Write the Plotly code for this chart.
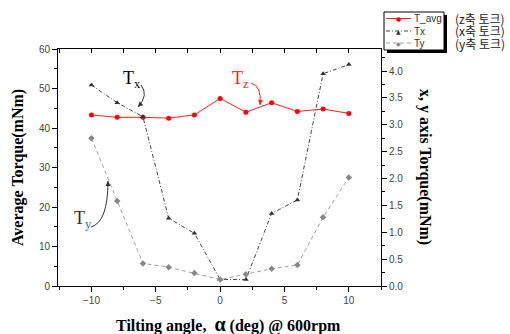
import plotly.graph_objects as go

angles = [-10, -8, -6, -4, -2, 0, 2, 4, 6, 8, 10]
t_avg = [43.3, 42.7, 42.7, 42.5, 43.3, 47.5, 44.0, 46.4, 44.2, 44.8, 43.7]
tx = [3.74, 3.41, 3.15, 1.26, 0.98, 0.12, 0.12, 1.35, 1.60, 3.95, 4.12]
ty = [2.75, 1.58, 0.42, 0.35, 0.24, 0.12, 0.22, 0.32, 0.39, 1.28, 2.02]
series_names = ["T_avg", "Tx", "Ty"]
legend_notes = ["(z축 토크)", "(x축 토크)", "(y축 토크)"]

W, H = 510, 334
L, R, T, B = 58, 381, 49, 286
XR = [-12.6, 12.5]
YR = [0, 60]
Y2R = [0, 4.41]

colors = ["#ff2020", "#444444", "#a0a0a0"]
mcolors = ["#ff0000", "#333333", "#888888"]
dashes = ["solid", "4px,2px,1px,2px", "4px,3px"]
symbols = ["circle", "triangle-up", "diamond"]
glyphs = ["●", "▲", "◆"]


def px(X, Y):
    """pixel -> data coords (x, left y)"""
    x = XR[0] + (X - L) / (R - L) * (XR[1] - XR[0])
    y = YR[0] + (B - Y) / (B - T) * (YR[1] - YR[0])
    return x, y


def pp(X, Y):
    """pixel -> paper coords"""
    return (X - L) / (R - L), (B - Y) / (B - T)


fig = go.Figure()
fig.add_trace(go.Scatter(x=angles, y=t_avg, name=series_names[0], mode="lines+markers",
                         line=dict(color=colors[0], width=1, dash=dashes[0]),
                         marker=dict(symbol=symbols[0], size=5, color=mcolors[0])))
fig.add_trace(go.Scatter(x=angles, y=tx, name=series_names[1], mode="lines+markers", yaxis="y2",
                         line=dict(color=colors[1], width=1, dash=dashes[1]),
                         marker=dict(symbol=symbols[1], size=5, color=mcolors[1])))
fig.add_trace(go.Scatter(x=angles, y=ty, name=series_names[2], mode="lines+markers", yaxis="y2",
                         line=dict(color=colors[2], width=1, dash=dashes[2]),
                         marker=dict(symbol=symbols[2], size=5, color=mcolors[2])))
# invisible trace for top axis
fig.add_trace(go.Scatter(x=[angles[0]], y=[t_avg[0]], xaxis="x2", mode="markers",
                         marker=dict(opacity=0), showlegend=False, hoverinfo="skip"))

tickfont = dict(family="Arial, Liberation Sans", size=10, color="#444444")
fig.update_layout(
    width=W, height=H,
    margin=dict(l=L, r=W - R, t=T, b=H - B, pad=0),
    paper_bgcolor="white", plot_bgcolor="white",
    showlegend=False,
    xaxis=dict(range=XR, tickvals=[-10, -5, 0, 5, 10], ticks="outside", ticklen=5,
               tickcolor="black", showline=True, linecolor="black", linewidth=1,
               showgrid=False, zeroline=False, tickfont=tickfont, automargin=False,
               minor=dict(dtick=2.5, tick0=0, ticks="outside", ticklen=3, tickcolor="black")),
    xaxis2=dict(range=XR, overlaying="x", side="top", anchor="y", dtick=2.5, tick0=0,
                ticks="inside", ticklen=4, tickcolor="black", showticklabels=False,
                automargin=False,
                showline=True, linecolor="black", linewidth=1, showgrid=False, zeroline=False),
    yaxis=dict(range=YR, dtick=10, ticks="outside", ticklen=5, tickcolor="black",
               showline=True, linecolor="black", linewidth=1, showgrid=False, zeroline=False,
               tickfont=tickfont, automargin=False,
               minor=dict(dtick=5, ticks="outside", ticklen=3, tickcolor="black")),
    yaxis2=dict(range=Y2R, overlaying="y", side="right", anchor="x", dtick=0.5,
                tickformat=".1f", ticks="outside", ticklen=5, tickcolor="black",
                showline=True, linecolor="black", linewidth=1, showgrid=False,
                zeroline=False, tickfont=tickfont, automargin=False,
                minor=dict(dtick=0.25, ticks="outside", ticklen=3, tickcolor="black")),
)

titlefont = dict(family="Liberation Serif", size=16, color="black")
# axis titles
bx, by = pp(228, 324)
fig.add_annotation(x=bx, y=by, xref="paper", yref="paper",
                   text="<b>Tilting angle,  <span style='font-size:20px'>α</span> (deg) @ 600rpm</b>",
                   showarrow=False, xanchor="center", yanchor="middle", font=titlefont)
lx, ly = pp(18, 168)
fig.add_annotation(x=lx, y=ly, xref="paper", yref="paper", text="<b>Average Torque(mNm)</b>",
                   textangle=-90, showarrow=False, xanchor="center", yanchor="middle",
                   font=titlefont)
rx, ry = pp(425, 167)
fig.add_annotation(x=rx, y=ry, xref="paper", yref="paper", text="<b>x, y axis Torque(mNm)</b>",
                   textangle=90, showarrow=False, xanchor="center", yanchor="middle",
                   font=titlefont)

# manual legend: shadow, box
x0, y0 = pp(387, 15)
x1, y1 = pp(447, 53)
fig.add_shape(type="rect", xref="paper", yref="paper", x0=x0, y0=y0, x1=x1, y1=y1,
              fillcolor="black", line=dict(width=0), layer="above")
x0, y0 = pp(384, 12)
x1, y1 = pp(444, 50)
fig.add_shape(type="rect", xref="paper", yref="paper", x0=x0, y0=y0, x1=x1, y1=y1,
              fillcolor="white", line=dict(color="black", width=1), layer="above")

row_y = [18.5, 31, 43]
for i in range(3):
    lx0, ly = pp(386, row_y[i])
    lx1, _ = pp(411, row_y[i])
    fig.add_shape(type="line", xref="paper", yref="paper", x0=lx0, x1=lx1, y0=ly, y1=ly,
                  line=dict(color=colors[i], width=1, dash=dashes[i]), layer="above")
    gx, _ = pp(398.5, 0)
    fig.add_annotation(x=gx, y=ly, xref="paper", yref="paper", text=glyphs[i], showarrow=False,
                       xanchor="center", yanchor="middle",
                       font=dict(family="DejaVu Sans", size=6, color=mcolors[i]))
    tx_, _ = pp(412, 0)
    fig.add_annotation(x=tx_, y=ly, xref="paper", yref="paper", text=series_names[i],
                       showarrow=False, xanchor="left", yanchor="middle",
                       font=dict(family="Arial, Liberation Sans", size=10, color="#333333"))

nx, ny = pp(453, 31)
notes_text = "<br>".join(f"<span style='font-size:12px'>{n}</span>" for n in legend_notes)
fig.add_annotation(x=nx, y=ny, xref="paper", yref="paper", text=notes_text,
                   showarrow=False, xanchor="left", yanchor="middle", align="left",
                   font=dict(family="Noto Sans CJK KR", size=9.6, color="#222222"))

# series labels
labels = [
    ("T<sub>x</sub>", (132, 79), "black"),
    ("T<sub>z</sub>", (240, 79), "#ff2020"),
    ("T<sub><span style='color:#3a6ea5'>y</span></sub>", (83, 219), "#3a2a1a"),
]
for text, (X, Y), col in labels:
    ax_, ay_ = px(X, Y)
    fig.add_annotation(x=ax_, y=ay_, text=text, showarrow=False,
                       xanchor="center", yanchor="middle",
                       font=dict(family="Liberation Serif", size=18, color=col))

# curved arrows
curves = [
    ((141, 85), (149, 95), (138, 107), "#333333"),
    ((251, 83), (262, 86), (260, 105), "#ff2020"),
    ((91, 227), (108, 222), (108, 181), "#333333"),
]
for (sx, sy), (cx, cy), (ex, ey), col in curves:
    a = px(sx, sy); c = px(cx, cy); e = px(ex, ey)
    fig.add_shape(type="path", xref="x", yref="y",
                  path=f"M {a[0]},{a[1]} Q {c[0]},{c[1]} {e[0]},{e[1]}",
                  line=dict(color=col, width=1))
    dx, dy = ex - cx, ey - cy
    n = (dx * dx + dy * dy) ** 0.5
    fig.add_annotation(x=e[0], y=e[1], ax=-dx / n * 6, ay=-dy / n * 6, text="",
                       showarrow=True, arrowhead=2, arrowsize=1, arrowwidth=1,
                       arrowcolor=col, standoff=0)

fig.write_html("out.html", config={"displayModeBar": False},
               post_script="document.body.style.margin='0';")
